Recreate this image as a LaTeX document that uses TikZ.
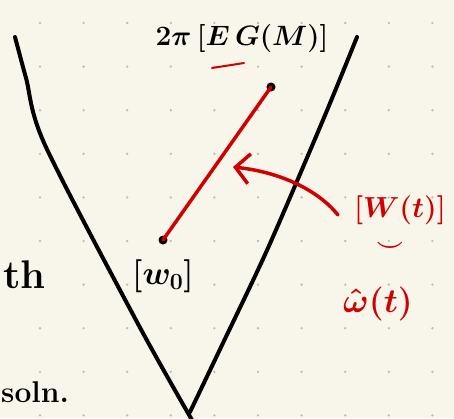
\RequirePackage{fix-cm}
\documentclass[tikz,border=0pt]{standalone}
\usepackage{amsmath,amssymb}
\usepackage{tikz}
\usetikzlibrary{arrows.meta,positioning}
\usepackage{xcolor}
\definecolor{paper}{RGB}{248,246,234}
\definecolor{griddot}{RGB}{188,188,182}
\definecolor{inkred}{RGB}{208,0,0}

\begin{document}
\begin{tikzpicture}[x=1pt, y=-1pt,
  ink/.style={line width=4pt, line cap=round, line join=round},
  redink/.style={draw=inkred, line width=3.5pt, line cap=round},
  hand/.style={inner sep=0pt, font=\fontsize{#1pt}{#1pt}\selectfont\bfseries\boldmath},
  redhand/.style={hand=#1, text=inkred},
  arr/.style={redink, -{Straight Barb[length=14pt, width=30pt, line width=3.5pt]}},
]
  %% ---- paper ----
  \useasboundingbox (0,0) rectangle (454,418);
  \fill[paper] (0,0) rectangle (454,418);
  \foreach \i in {0,...,9}
    \foreach \j in {0,...,9}
      \fill[griddot] (40+43.6*\i, 23+43.6*\j) circle (1.3);

  %% ---- the V ----
  \draw[ink] plot[smooth] coordinates
    {(15,37) (26,78) (45,145) (137,322) (192,420)};
  \draw[ink] plot[smooth] coordinates
    {(357,37) (323,120) (268,248) (223,343) (190,412)};

  %% ---- labels ----
  \node[hand=28] (gm) at (242,38) {$2\pi\,[E\,G(M)]$};
  \draw[inkred, line width=2pt, line cap=round] (212,68) -- (244,63);
  \node[hand=33] (w0) at (163,276) {$[w_0]$};
  \node[hand=40, anchor=base east] (th) at (46,288) {th};
  \node[hand=30, anchor=base west] (soln) at (1,402) {soln.};

  \node[redhand=29] (wt) at (400,210) {$[W(t)]$};
  \node[redhand=24] (cup) at (390,247) {$\smile$};
  \node[redhand=34] (what) at (378,304) {$\hat{\omega}(t)$};

  %% ---- red path and arrow ----
  \coordinate (start) at (163,240);
  \coordinate (end) at (271,87);
  \fill (start) circle (4.5);
  \fill (end) circle (4.5);
  \draw[redink] (start) -- (end);

  \coordinate (tail) at (338,215);
  \coordinate (tip) at (233,167);
  \draw[arr] (tail) .. controls (318,190) and (280,172) .. (tip);
\end{tikzpicture}
\end{document}
